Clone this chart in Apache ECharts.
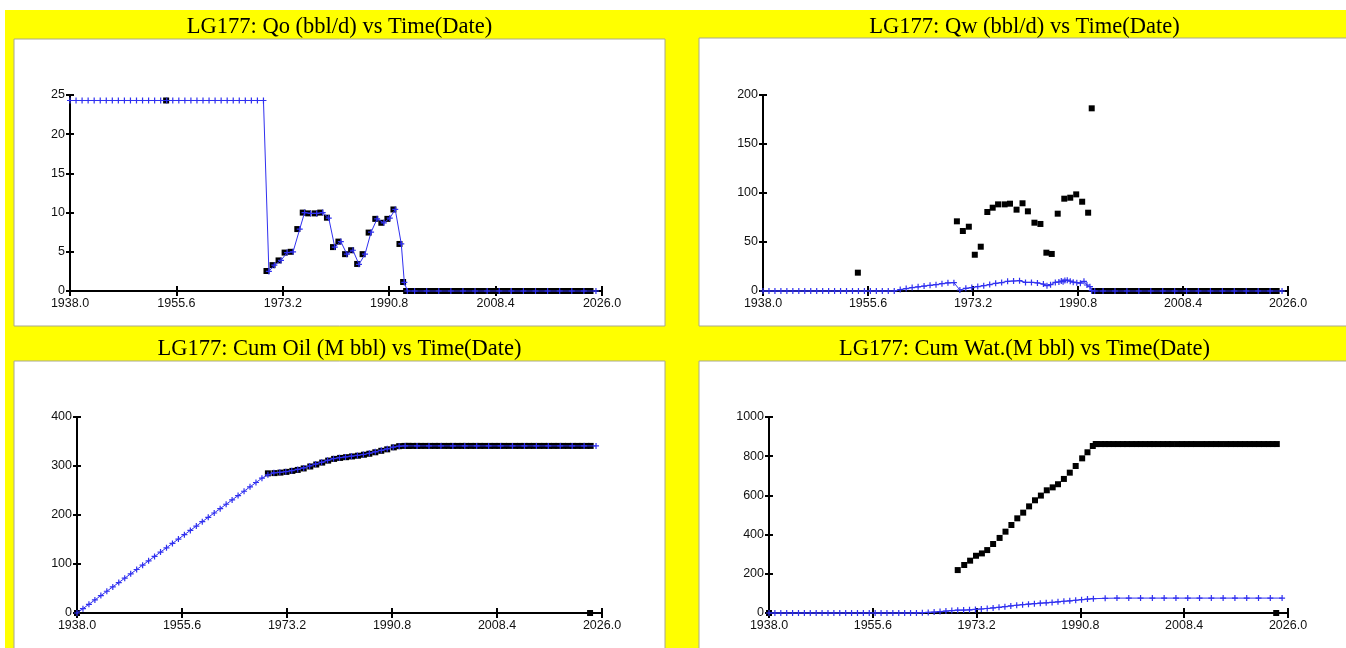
<!DOCTYPE html>
<html>
<head>
<meta charset="utf-8">
<title>LG177 history plots</title>
<script src="https://cdn.jsdelivr.net/npm/echarts@6/dist/echarts.min.js"></script>
<style>
  html, body { margin: 0; padding: 0; background: #fff; }
  #main { width: 1346px; height: 648px; }
</style>
</head>
<body>
<div id="main"></div>
<script type="text/javascript">
// ---- values, dates as decimal years ----
// simulated curves (blue line with + marks)
var earlyYears = [1938,1939,1940,1941,1942,1943,1944,1945,1946,1947,1948,1949,1950,1951,1952,1953,1954,
  1955,1956,1957,1958,1959,1960,1961,1962,1963,1964,1965,1966,1967,1968,1969,1970];
var midYears = [1971,1972,1973,1974,1975,1976,1977,1978,1979,1980,1981,1982,1983,1984,1985,1986,1987,
  1988,1989,1990,1991,1992,1993];
var tailYears = [1995,1997,1999,2001,2003,2005,2007,2009,2011,2013,2015,2017,2019,2021,2023,2025];

var qoSimEarly = [24.3,24.3,24.3,24.3,24.3,24.3,24.3,24.3,24.3,24.3,24.3,24.3,24.3,24.3,24.3,24.3,24.3,
  24.3,24.3,24.3,24.3,24.3,24.3,24.3,24.3,24.3,24.3,24.3,24.3,24.3,24.3,24.3,24.3];
var qoSimMidYears = [1970.9,1971.8,1972.9,1973.9,1974.9,1976.0,1976.8,1977.8,1978.8,1979.8,1980.8,1981.8,
  1982.8,1983.8,1984.8,1985.8,1986.8,1987.8,1988.8,1989.9,1990.9,1991.8,1992.8,1993.3,1993.8];
var qoSimMid = [2.5,3.3,3.9,4.9,5.0,7.9,10.0,9.9,9.9,10.0,9.3,5.6,6.3,4.7,5.2,3.4,4.7,7.5,9.2,8.7,9.3,10.4,6.0,1.1,0];
var qoSimTail = [0,0,0,0,0,0,0,0,0,0,0,0,0,0,0,0];

var qwSimEarly = [0,0,0,0,0,0,0,0,0,0,0,0,0,0,0,0,0,0,0,0,0,0,0,1.5,2.5,3.5,4.3,5.0,5.8,6.5,7.5,8.3,8.5];
var qwSimMidYears = [1971,1972,1973,1974,1975,1976,1977,1978,1979,1980,1981,1982,1983,1984,1985,
  1985.6,1986.2,1987.0,1987.6,1988.0,1988.3,1988.6,1989.0,1989.5,1990.0,1990.6,1991.2,1991.8,1992.3,1992.8,1993.1,1993.6];
var qwSimMid = [1.0,2.7,3.5,4.5,5.4,6.6,7.8,8.6,9.9,10.2,10.5,8.8,8.8,8.2,7.1,
  5.4,6.5,8.8,9.2,10.2,9.5,10.8,11.0,10.0,9.0,8.5,8.0,9.9,6.1,4.4,0.3,0];
var qwSimTail = [0,0,0,0,0,0,0,0,0,0,0,0,0,0,0,0];

var cumOilSimEarly = [0,8.9,17.8,26.6,35.5,44.4,53.3,62.1,71.0,79.9,88.8,97.6,106.5,115.4,124.3,133.1,142.0,
  150.9,159.8,168.6,177.5,186.4,195.3,204.1,213.0,221.9,230.8,239.6,248.5,257.4,266.3,275.1,282.0];
var cumOilSimMid = [286,287,288.5,290.5,293,296,300,304,307.5,311.5,315,317,318.5,320,321.5,323.5,326,329,332,335,338.5,340.5,341];
var cumOilSimTail = [341,341,341,341,341,341,341,341,341,341,341,341,341,341,341,341];

var cumWatSimEarly = [0,0,0,0,0,0,0,0,0,0,0,0,0,0,0,0,0,0,0,0,0,0,0,0,0,0.5,1.5,3,5,7.5,10,12.5,14.5];
var cumWatSimMid = [15,16,18,20.5,23,26,29,32.5,36,39.5,42.5,45,47.5,50,52,54,57,60,62,65,68,71,73];
var cumWatSimTail = [75,76,76,76,76,76,76,76,76,76,76,76,76,76,76,76];

// observed well tests (black squares)
var testDates = [1953.9,1970.5,1971.5,1972.5,1973.5,1974.5,1975.6,1976.5,1977.4,1978.5,1979.4,1980.5,1981.5,
  1982.4,1983.5,1984.5,1985.5,1986.4,1987.4,1988.5,1989.5,1990.5,1991.5,1992.5,1993.1];
var qoObs = [24.3,2.55,3.3,3.9,4.9,5.0,7.9,10.0,9.9,9.9,10.0,9.35,5.6,6.3,4.7,5.2,3.45,4.7,7.45,9.2,8.7,9.2,10.4,6.0,1.15];
var qwObs = [18.7,71.1,61.2,65.6,37.0,45.2,80.6,85.0,88.4,88.4,89.1,83.0,89.5,81.3,69.7,68.4,39.1,37.8,78.9,94.2,95.2,98.6,91.1,79.9,186.4];

var cumDates = [1938.0,1970.0,1971.1,1972.1,1973.1,1974.1,1975.0,1976.0,1977.1,1978.1,1979.1,1980.1,1981.1,
  1982.1,1983.1,1984.1,1985.1,1986.1,1987.0,1988.0,1989.0,1990.0,1991.1,1992.0,1992.9,1993.4];
var cumOilObs = [0,285,285.5,286.5,288,290,292,295,299,303,307,311,314.5,316.5,318,319.5,321,323,325,328,331,334,338,340.5,341,341];
var cumWatObs = [0,219,245,267,292,304,321,352,383,415,449,483,512,544,575,599,626,641,657,684,716,750,789,820,852,862];

var lateDates = [1993.6,1994.3,1995.0,1995.6,1996.4,1997.2,1998.0,1998.7,1999.5,2000.3,
  2001.0,2001.8,2002.6,2003.2,2004.0,2004.8,2005.6,2006.3,2007.2,2008.0,
  2008.8,2009.6,2010.4,2011.4,2012.2,2013.0,2013.8,2014.6,2015.5,2016.3,
  2017.1,2017.9,2018.7,2019.5,2020.3,2021.1,2021.9,2022.7,2023.4,2024.1];
var qoLate = [0,0,0,0,0,0,0,0,0,0, 0,0,0,0,0,0,0,0,0,0, 0,0,0,0,0,0,0,0,0,0, 0,0,0,0,0,0,0,0,0,0];
var qwLate = [0,0,0,0,0,0,0,0,0,0, 0,0,0,0,0,0,0,0,0,0, 0,0,0,0,0,0,0,0,0,0, 0,0,0,0,0,0,0,0,0,0];
var cumOilLate = [341,341,341,341,341,341,341,341,341,341, 341,341,341,341,341,341,341,341,341,341,
  341,341,341,341,341,341,341,341,341,341, 341,341,341,341,341,341,341,341,341,341];
var cumWatLate = [862,862,862,862,862,862,862,862,862,862, 862,862,862,862,862,862,862,862,862,862,
  862,862,862,862,862,862,862,862,862,862, 862,862,862,862,862,862,862,862,862,862];
var lastDate = [2024.0];
var cumOilLast = [0];
var cumWatLast = [0];

// x axis runs 1938.0 .. 2026.0, ticks every 17.6 years
var startYear = 1938;

var myChart = echarts.init(document.getElementById('main'));

function pts(xs, ys) {
  return xs.map(function (x, i) { return [x - startYear, ys[i]]; });
}

var panels = [
  { title: 'LG177: Qo (bbl/d) vs Time(Date)', cx: 339.5, cy: 26, box: [14, 39, 651, 287],
    grid: { left: 70, top: 95, width: 532, height: 196 }, yMax: 25, yStep: 5,
    sim: pts(earlyYears, qoSimEarly).concat(pts(qoSimMidYears, qoSimMid), pts(tailYears, qoSimTail)),
    obs: pts(testDates, qoObs).concat(pts(lateDates, qoLate)) },
  { title: 'LG177: Qw (bbl/d) vs Time(Date)', cx: 1024.5, cy: 26, box: [699, 38, 680, 288],
    grid: { left: 763, top: 95, width: 525, height: 196 }, yMax: 200, yStep: 50,
    sim: pts(earlyYears, qwSimEarly).concat(pts(qwSimMidYears, qwSimMid), pts(tailYears, qwSimTail)),
    obs: pts(testDates, qwObs).concat(pts(lateDates, qwLate)) },
  { title: 'LG177: Cum Oil (M bbl) vs Time(Date)', cx: 339.5, cy: 348, box: [14, 361, 651, 300],
    grid: { left: 77, top: 417, width: 525, height: 196 }, yMax: 400, yStep: 100,
    sim: pts(earlyYears, cumOilSimEarly).concat(pts(midYears, cumOilSimMid), pts(tailYears, cumOilSimTail)),
    obs: pts(cumDates, cumOilObs).concat(pts(lateDates, cumOilLate), pts(lastDate, cumOilLast)) },
  { title: 'LG177: Cum Wat.(M bbl) vs Time(Date)', cx: 1024.5, cy: 348, box: [699, 361, 680, 300],
    grid: { left: 769, top: 417, width: 519, height: 196 }, yMax: 1000, yStep: 200,
    sim: pts(earlyYears, cumWatSimEarly).concat(pts(midYears, cumWatSimMid), pts(tailYears, cumWatSimTail)),
    obs: pts(cumDates, cumWatObs).concat(pts(lateDates, cumWatLate), pts(lastDate, cumWatLast)) }
];

var plusMark = 'path://M4,0h2v10h-2zM0,4h10v2h-10z';
var axisBlack = { color: '#000', width: 2 };
var labelStyle = { color: '#111', fontFamily: '"Liberation Sans", Arial, sans-serif', fontSize: 12.5 };

var grids = [], xAxes = [], yAxes = [], series = [], titles = [];
var graphics = [
  { type: 'rect', z: -20, shape: { x: 5, y: 10, width: 1341, height: 638 }, style: { fill: '#ffff00' } }
];

panels.forEach(function (p, i) {
  grids.push(p.grid);
  titles.push({
    text: p.title, left: p.cx, top: p.cy + 1, padding: 0,
    textAlign: 'center', textVerticalAlign: 'middle',
    textStyle: { fontFamily: '"Liberation Serif", "Times New Roman", serif', fontSize: 22.5, fontWeight: 'normal', color: '#000' }
  });
  graphics.push({
    type: 'rect', z: -10,
    shape: { x: p.box[0], y: p.box[1], width: p.box[2], height: p.box[3] },
    style: { fill: '#fff', stroke: '#a8a890', lineWidth: 1 }
  });

  // outer ticks + labels, then a second axis for the inner half of the ticks
  xAxes.push({
    gridIndex: i, type: 'value', position: 'bottom', min: 0, max: 88, interval: 17.6,
    axisLine: { show: true, onZero: false, lineStyle: axisBlack },
    axisTick: { show: true, length: 5, lineStyle: axisBlack },
    axisLabel: Object.assign({ margin: 6, showMinLabel: true, showMaxLabel: true,
      formatter: function (v) { return (v + startYear).toFixed(1); } }, labelStyle),
    splitLine: { show: false }
  });
  xAxes.push({
    gridIndex: i, type: 'value', position: 'bottom', min: 0, max: 88, interval: 17.6,
    axisLine: { show: false }, axisLabel: { show: false }, splitLine: { show: false },
    axisTick: { show: true, inside: true, length: 5, lineStyle: axisBlack }
  });
  yAxes.push({
    gridIndex: i, type: 'value', position: 'left', min: 0, max: p.yMax, interval: p.yStep,
    axisLine: { show: true, onZero: false, lineStyle: axisBlack },
    axisTick: { show: true, length: 4, lineStyle: axisBlack },
    axisLabel: Object.assign({ margin: 5, showMinLabel: true, showMaxLabel: true,
      formatter: function (v) { return String(v); } }, labelStyle),
    splitLine: { show: false }
  });
  yAxes.push({
    gridIndex: i, type: 'value', position: 'left', min: 0, max: p.yMax, interval: p.yStep,
    axisLine: { show: false }, axisLabel: { show: false }, splitLine: { show: false },
    axisTick: { show: true, inside: true, length: 4, lineStyle: axisBlack }
  });

  series.push({
    type: 'line', xAxisIndex: 2 * i, yAxisIndex: 2 * i, data: p.sim, clip: false,
    symbol: plusMark, symbolSize: 6, showSymbol: true,
    lineStyle: { color: '#3030f0', width: 1 }, itemStyle: { color: '#3030f0' }
  });
  series.push({
    type: 'scatter', xAxisIndex: 2 * i, yAxisIndex: 2 * i, data: p.obs, clip: false,
    symbol: 'rect', symbolSize: 6, itemStyle: { color: '#000', opacity: 1 }
  });
});

var option = {
  backgroundColor: '#fff',
  animation: false,
  title: titles,
  graphic: graphics,
  grid: grids,
  xAxis: xAxes,
  yAxis: yAxes,
  series: series
};
myChart.setOption(option);
</script>
</body>
</html>
